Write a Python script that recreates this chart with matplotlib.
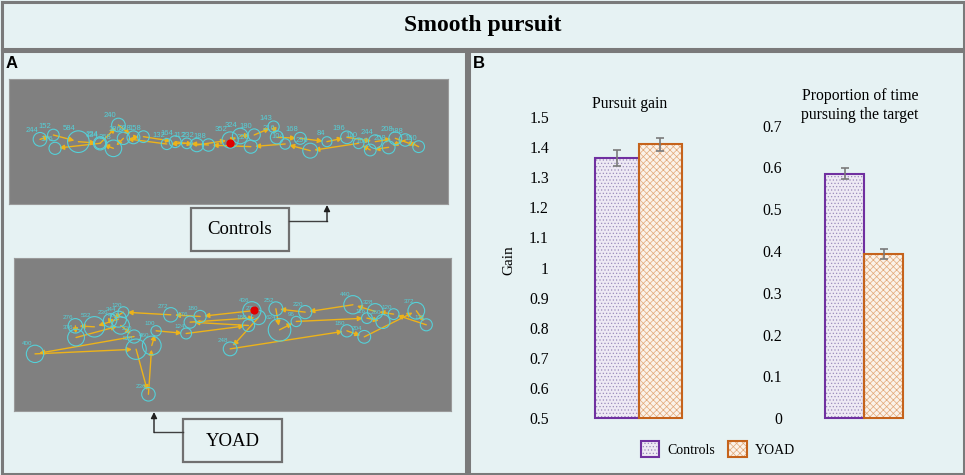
import numpy as np
import matplotlib
matplotlib.use('Agg')
import matplotlib.pyplot as plt
from matplotlib.patches import Rectangle, Patch
from matplotlib.legend_handler import HandlerTuple

# ---------------- data ----------------
groups = ['Controls', 'YOAD']
gain_mean = [1.364, 1.408]
gain_err = [0.027, 0.021]
prop_mean = [0.585, 0.393]
prop_err = [0.013, 0.011]
gain_ticks = [0.5, 0.6, 0.7, 0.8, 0.9, 1.0, 1.1, 1.2, 1.3, 1.4, 1.5]
gain_ticklabels = ['0.5', '0.6', '0.7', '0.8', '0.9', '1', '1.1', '1.2', '1.3', '1.4', '1.5']
prop_ticks = [0, 0.1, 0.2, 0.3, 0.4, 0.5, 0.6, 0.7]
prop_ticklabels = ['0', '0.1', '0.2', '0.3', '0.4', '0.5', '0.6', '0.7']

# scanpaths (screen coordinates, fixation durations in ms)
ctrl_fix_x = [120, 160, 235, 300, 355, 400, 430, 525, 590, 690, 720, 762, 820, 830, 900, 980, 1040,
              1125, 1185, 1255, 1215, 1165, 1110, 1075, 930, 855, 752, 625, 560, 500, 370, 340, 300, 165]
ctrl_fix_y = [268, 255, 275, 280, 225, 262, 260, 275, 285, 270, 258, 255, 230, 262, 265, 275, 262,
              275, 265, 290, 270, 292, 300, 280, 302, 282, 290, 285, 280, 282, 265, 295, 280, 295]
ctrl_fix_dur = [244, 152, 584, 224, 240, 208, 158, 164, 232, 352, 324, 180, 143, 216, 168, 84, 196,
                244, 208, 160, 188, 208, 160, 110, 296, 104, 220, 188, 112, 132, 186, 368, 134, 176]
ctrl_target = (688, 278)

yoad_fix_x = [755, 600, 512, 370, 330, 355, 283, 226, 228, 362, 402, 105, 408, 445, 455, 468, 558,
              745, 570, 775, 690, 1040, 1092, 1248, 1278, 1180, 1125, 1058, 915, 827, 838, 888, 1100, 1148]
yoad_fix_y = [168, 185, 180, 172, 197, 193, 216, 213, 248, 212, 245, 297, 283, 418, 272, 228, 236,
              212, 202, 188, 282, 228, 246, 168, 210, 178, 170, 150, 172, 162, 225, 200, 190, 200]
yoad_fix_dur = [436, 180, 272, 120, 236, 344, 532, 276, 376, 400, 220, 400, 528, 236, 460, 100, 124,
                180, 176, 272, 248, 180, 204, 372, 172, 120, 328, 440, 220, 252, 624, 96, 116, 260]
yoad_target = (760, 165)

# ---------------- style ----------------
W, H = 965, 475
BG = '#E6F2F3'
BORDER = '#7a7a7a'
SERIF = 'Liberation Serif'
SANS = 'Liberation Sans'
CYAN = '#55D0D8'
YEL = '#EDB31A'
C_EDGE, Y_EDGE = '#7030A0', '#C5631B'
C_FACE, Y_FACE = '#EEE9F4', '#FBF2E8'
C_HATCH, Y_HATCH = '#9C8CBC', '#E2A878'

plt.rcParams['hatch.linewidth'] = 0.5

fig = plt.figure(figsize=(W / 100, H / 100), dpi=100, facecolor=BG)


def px_axes(x0, y0, x1, y1):
    return fig.add_axes([x0 / W, 1 - y1 / H, (x1 - x0) / W, (y1 - y0) / H])


bg = px_axes(0, 0, W, H)
bg.set_xlim(0, W)
bg.set_ylim(H, 0)
bg.axis('off')
bg.set_zorder(0)

# frames
for (x0, y0, x1, y1) in [(1.5, 1.5, 963.5, 48.5), (1.5, 50.5, 465.5, 473.5), (468.5, 50.5, 963.5, 473.5)]:
    bg.add_patch(Rectangle((x0, y0), x1 - x0, y1 - y0, fill=False, ec=BORDER, lw=2.2))

bg.text(483, 25, 'Smooth pursuit', ha='center', va='center', fontsize=17,
        fontweight='bold', family=SERIF)
bg.text(6, 64, 'A', ha='left', va='center', fontsize=12, fontweight='bold', family=SANS)
bg.text(473, 64, 'B', ha='left', va='center', fontsize=12, fontweight='bold', family=SANS)


# ---------------- panel A: scanpaths ----------------
def draw_scan(ax, xs, ys, durs, target, scale, fs):
    for i in range(len(xs) - 1):
        ax.annotate('', xy=(xs[i + 1], ys[i + 1]), xytext=(xs[i], ys[i]),
                    arrowprops=dict(arrowstyle='-|>', color=YEL, lw=1.0, mutation_scale=7,
                                    shrinkA=0, shrinkB=3))
    r = 12 + 0.035 * np.array(durs, dtype=float)
    s = (2 * r * scale * 0.72) ** 2
    ax.scatter(xs, ys, s=s, facecolors='none', edgecolors=CYAN, linewidths=0.8, zorder=3)
    for x, y, d, rr in zip(xs, ys, durs, r):
        ax.text(x - rr * 0.3, y - rr * 0.85, str(d), color=CYAN, fontsize=fs,
                ha='right', va='bottom', family=SANS, zorder=4)
    ax.scatter([target[0]], [target[1]], s=24, c='#E00000', zorder=5)


axc = px_axes(9, 79, 448, 204)
axc.set_facecolor('#808080')
axc.set_xlim(27, 1343)
axc.set_ylim(462, 87)
axc.set_xticks([]); axc.set_yticks([])
for sp in axc.spines.values():
    sp.set_color('#9a9a9a'); sp.set_linewidth(0.8)
draw_scan(axc, ctrl_fix_x, ctrl_fix_y, ctrl_fix_dur, ctrl_target, (448 - 9) / (1343 - 27), 5.5)
axc.set_zorder(1)

axy = px_axes(14, 258, 451, 411)
axy.set_facecolor('#808080')
axy.set_xlim(42, 1352)
axy.set_ylim(468, 10)
axy.set_xticks([]); axy.set_yticks([])
for sp in axy.spines.values():
    sp.set_color('#9a9a9a'); sp.set_linewidth(0.8)
draw_scan(axy, yoad_fix_x, yoad_fix_y, yoad_fix_dur, yoad_target, (451 - 14) / (1352 - 42), 4.5)
axy.set_zorder(1)

# label boxes and connectors
bg.add_patch(Rectangle((191, 208), 98, 43, fc=BG, ec='#707070', lw=1.6))
bg.text(240, 230, 'Controls', ha='center', va='center', fontsize=13.5, family=SERIF)
bg.plot([289, 327], [221, 221], color='#404040', lw=1)
bg.annotate('', xy=(327, 205), xytext=(327, 221.5),
            arrowprops=dict(arrowstyle='-|>', color='#202020', lw=1, mutation_scale=9,
                            shrinkA=0, shrinkB=0))

bg.add_patch(Rectangle((183, 419), 99, 43, fc=BG, ec='#707070', lw=1.6))
bg.text(232.5, 441, 'YOAD', ha='center', va='center', fontsize=13.5, family=SERIF)
bg.plot([183, 154], [432, 432], color='#404040', lw=1)
bg.annotate('', xy=(154, 412), xytext=(154, 432.5),
            arrowprops=dict(arrowstyle='-|>', color='#202020', lw=1, mutation_scale=9,
                            shrinkA=0, shrinkB=0))

# ---------------- panel B: bars ----------------
faces = [C_FACE, Y_FACE]
hcols = [C_HATCH, Y_HATCH]
edges = [C_EDGE, Y_EDGE]
hatches = ['.....', 'xxxxx']


def bar_axes(x0, x1, ytop, ybot, left_edge_px, right_edge_px, ylim, means, errs, ticks, labels):
    ax = px_axes(x0, ytop, x1, ybot)
    unit = (right_edge_px - left_edge_px) / 2.0
    ax.set_xlim(-0.5 - (left_edge_px - x0) / unit, -0.5 + (x1 - left_edge_px) / unit)
    ax.set_ylim(*ylim)
    ax.patch.set_alpha(0)
    for sp in ax.spines.values():
        sp.set_visible(False)
    base = ylim[0]
    xs = np.arange(len(means))
    heights = np.array(means) - base
    for i in range(len(means)):
        ax.bar(xs[i], heights[i], width=1.0, bottom=base, color=faces[i], edgecolor=hcols[i],
               hatch=hatches[i], linewidth=0, clip_on=False, zorder=2)
        ax.bar(xs[i], heights[i], width=1.0, bottom=base, fill=False, edgecolor=edges[i],
               linewidth=1.5, clip_on=False, zorder=3)
    ax.errorbar(xs, means, yerr=errs, fmt='none', ecolor='#7a7a7a', elinewidth=1.2,
                capsize=3, capthick=1.2, zorder=4)
    ax.set_xticks([])
    ax.set_yticks(ticks)
    ax.set_yticklabels(labels, fontsize=11.3, family=SERIF)
    ax.tick_params(axis='y', length=0, pad=5.8)
    ax.set_zorder(1)
    return ax


axL = bar_axes(557, 720, 116.7, 418.3, 595.3, 681.7, (0.5, 1.5), gain_mean, gain_err,
               gain_ticks, gain_ticklabels)
axR = bar_axes(790, 950, 125.7, 418.3, 825.0, 903.3, (0, 0.7), prop_mean, prop_err,
               prop_ticks, prop_ticklabels)

bg.text(629.3, 104.3, 'Pursuit gain', ha='center', va='center', fontsize=11.3, family=SERIF)
bg.text(860, 105.5, 'Proportion of time\npursuing the target', ha='center', va='center',
        fontsize=11.3, family=SERIF, linespacing=1.3)
bg.text(509, 260, 'Gain', rotation=90, ha='center', va='center', fontsize=11, family=SERIF)

handles = [(Patch(fc=faces[i], ec=hcols[i], hatch=hatches[i], lw=0),
            Patch(fill=False, ec=edges[i], lw=1.5)) for i in range(2)]
fig.legend(handles, groups, loc='center', bbox_to_anchor=(718 / W, 1 - 449 / H), ncol=2,
           frameon=False, prop={'family': SERIF, 'size': 10}, handlelength=1.35,
           handleheight=1.35, handletextpad=0.6, columnspacing=0.9,
           handler_map={tuple: HandlerTuple(ndivide=1)})

fig.savefig('out.png', dpi=100, facecolor=BG)
